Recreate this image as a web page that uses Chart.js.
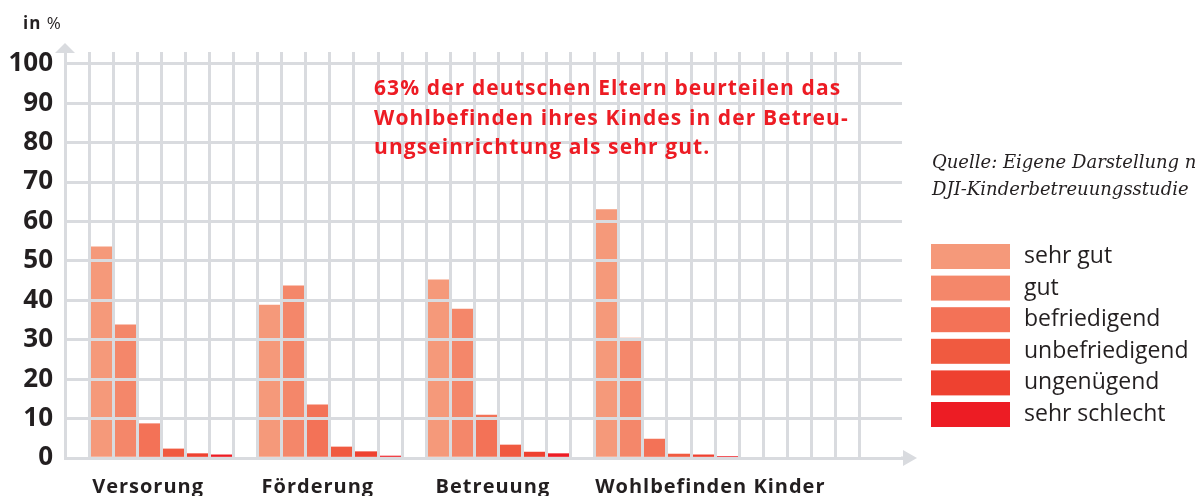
<!DOCTYPE html>
<html lang="de">
<head>
<meta charset="utf-8">
<title>Zufriedenheit mit der Kinderbetreuung</title>
<script src="https://cdn.jsdelivr.net/npm/chart.js@4.4.1/dist/chart.umd.min.js"></script>
<style>
    html, body { margin: 0; padding: 0; background: #ffffff; }
    #chart-wrap { width: 1195px; height: 496px; position: relative; }
</style>
</head>
<body>
<div id="chart-wrap">
    <canvas id="rating-chart" width="1195" height="496"></canvas>
</div>
<script>
// --- Data (in %) ---
const categories = ['Versorung', 'Förderung', 'Betreuung', 'Wohlbefinden Kinder'];
const ratingLabels = ['sehr gut', 'gut', 'befriedigend', 'unbefriedigend', 'ungenügend', 'sehr schlecht'];

const sehrGut        = [53.6, 38.8, 45.2, 63.0];
const gut            = [33.8, 43.7, 37.8, 30.4];
const befriedigend   = [8.7, 13.5, 10.9, 4.8];
const unbefriedigend = [2.3, 2.8, 3.3, 1.0];
const ungenuegend    = [1.1, 1.6, 1.5, 0.8];
const sehrSchlecht   = [0.8, 0.5, 1.1, 0.4];

const yTicks = [0, 10, 20, 30, 40, 50, 60, 70, 80, 90, 100];

const axisTitle = 'in %';
const noteLines = [
    '63% der deutschen Eltern beurteilen das',
    'Wohlbefinden ihres Kindes in der Betreu-',
    'ungseinrichtung als sehr gut.'
];
const sourceLines = [
    'Quelle: Eigene Darstellung nach',
    'DJI-Kinderbetreuungsstudie'
];

// --- Styling ---
const ratingColors = ['#f5997a', '#f4876a', '#f37257', '#f05a40', '#ee4130', '#ed1c24'];
const GRID = '#d9dbdf';
const TEXT = '#231f20';
const RED = '#ed1c24';
const FONT = "'Open Sans', 'Noto Sans', sans-serif";

// one grid cell per bar, 7 cells per group (6 bars + 1 gap), first group starts at cell 1
const CELLS_PER_GROUP = 7;
const X_MAX = 34.76;
const Y_MAX = 103;

const seriesValues = [sehrGut, gut, befriedigend, unbefriedigend, ungenuegend, sehrSchlecht];

/**
 * Build one dataset per rating; each bar sits in its own grid cell
 */
function buildDatasets() {
    return ratingLabels.map((label, i) => ({
        label: label,
        data: seriesValues[i].map((v, g) => ({ x: 1 + g * CELLS_PER_GROUP + i + 0.5, y: v })),
        backgroundColor: ratingColors[i],
        borderWidth: 0,
        barPercentage: 1,
        categoryPercentage: 1,
        grouped: false
    }));
}

/**
 * Extras: axis arrows, group labels, annotation, source and legend
 */
const extrasPlugin = {
    id: 'extras',
    afterDraw(chart) {
        const ctx = chart.ctx;
        const area = chart.chartArea;
        const xs = chart.scales.x;
        ctx.save();

        // axis arrows
        ctx.fillStyle = GRID;
        ctx.beginPath();
        ctx.moveTo(area.left - 10, area.top + 1);
        ctx.lineTo(area.left + 10, area.top + 1);
        ctx.lineTo(area.left, area.top - 9);
        ctx.closePath();
        ctx.fill();
        ctx.beginPath();
        ctx.moveTo(area.right + 1, area.bottom - 8);
        ctx.lineTo(area.right + 1, area.bottom + 8);
        ctx.lineTo(area.right + 15, area.bottom);
        ctx.closePath();
        ctx.fill();
        ctx.fillRect(area.right - 1, area.bottom - 1.5, 3, 3);

        // unit label
        ctx.fillStyle = TEXT;
        ctx.textBaseline = 'alphabetic';
        ctx.textAlign = 'left';
        ctx.letterSpacing = '1px';
        ctx.font = `bold 17px ${FONT}`;
        const unitParts = axisTitle.split(' ');
        ctx.fillText(unitParts[0], 23, 29);
        const w = ctx.measureText(unitParts[0] + ' ').width;
        ctx.font = `17px ${FONT}`;
        ctx.fillText(unitParts[1], 23 + w, 29);

        // group labels under the x axis
        const labelAt = [3.45, 10.5, 17.77, 26.8];
        ctx.font = `bold 20px ${FONT}`;
        ctx.textAlign = 'center';
        categories.forEach((c, g) => {
            ctx.fillText(c, xs.getPixelForValue(labelAt[g]), area.bottom + 35);
        });

        // red annotation
        ctx.fillStyle = RED;
        ctx.textAlign = 'left';
        ctx.font = `bold 21px ${FONT}`;
        ctx.letterSpacing = '1.1px';
        noteLines.forEach((line, i) => {
            ctx.fillText(line, 374, 95 + i * 29.5);
        });
        ctx.letterSpacing = '0px';

        // source
        ctx.fillStyle = TEXT;
        ctx.font = `italic 18px 'DejaVu Serif', serif`;
        sourceLines.forEach((line, i) => {
            ctx.fillText(line, 932, 168 + i * 27);
        });

        // legend
        ctx.font = `23px ${FONT}`;
        ctx.textBaseline = 'middle';
        chart.data.datasets.forEach((ds, i) => {
            const top = 244 + i * 31.6;
            ctx.fillStyle = ds.backgroundColor;
            ctx.fillRect(931, top, 79, 25);
            ctx.fillStyle = TEXT;
            ctx.fillText(ds.label, 1024, top + 12.5);
        });

        ctx.restore();
    }
};

/**
 * Initialize the chart
 */
function initializeChart() {
    const canvas = document.getElementById('rating-chart');
    if (typeof Chart === 'undefined') {
        console.error('Chart.js not loaded');
        return null;
    }

    return new Chart(canvas.getContext('2d'), {
        type: 'bar',
        data: { datasets: buildDatasets() },
        options: {
            responsive: false,
            animation: false,
            devicePixelRatio: 1,
            layout: { padding: { top: 52, right: 293, left: 0, bottom: 0 } },
            plugins: {
                legend: { display: false },
                tooltip: { enabled: false }
            },
            scales: {
                x: {
                    type: 'linear',
                    offset: false,
                    min: 0,
                    max: X_MAX,
                    ticks: { display: false, stepSize: 1 },
                    afterBuildTicks: (s) => {
                        s.ticks = s.ticks.filter(t => Number.isInteger(t.value) && t.value <= 33);
                    },
                    afterFit: (s) => { s.height = 38; },
                    grid: { color: GRID, lineWidth: 3, drawTicks: false, offset: false, z: 1 },
                    border: { color: GRID, width: 3, z: 1 }
                },
                y: {
                    min: 0,
                    max: Y_MAX,
                    afterBuildTicks: (s) => {
                        s.ticks = yTicks.map(v => ({ value: v }));
                    },
                    afterFit: (s) => { s.width = 65; },
                    ticks: {
                        color: TEXT,
                        padding: 12,
                        font: { family: FONT, size: 26, weight: 'bold' }
                    },
                    grid: { color: GRID, lineWidth: 3, drawTicks: false, z: 1 },
                    border: { color: GRID, width: 3, z: 1 }
                }
            }
        },
        plugins: [extrasPlugin]
    });
}

initializeChart();
</script>
</body>
</html>
